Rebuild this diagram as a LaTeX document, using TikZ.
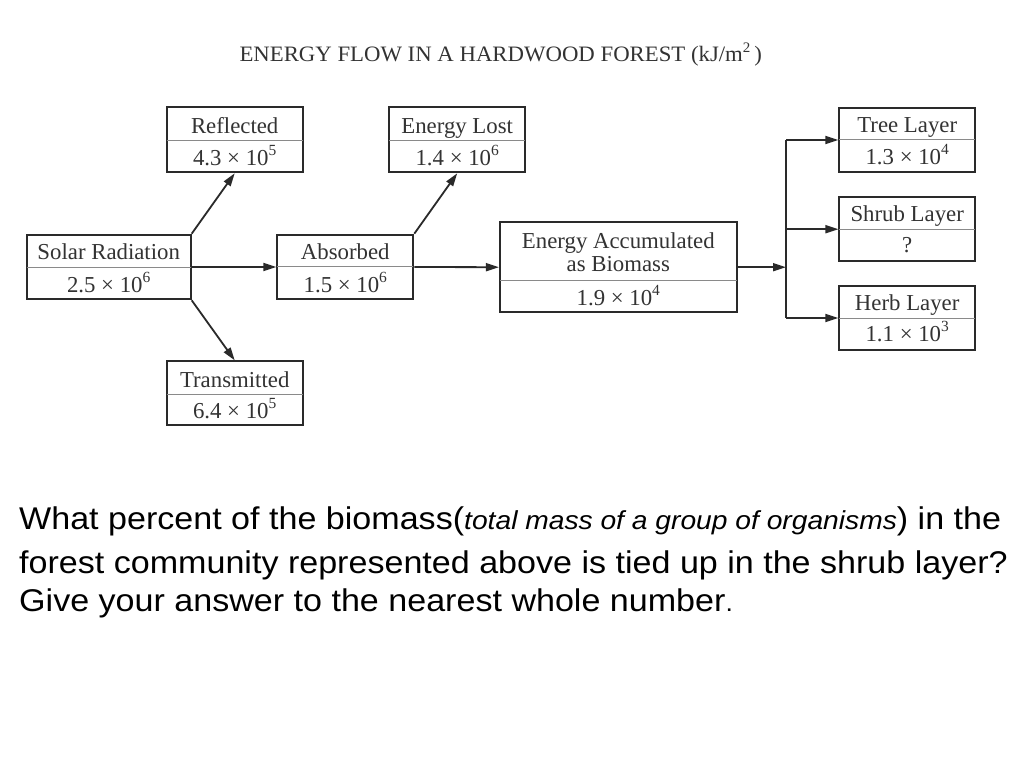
\documentclass[tikz,border=0pt]{standalone}
\usepackage{graphicx}
\usepackage{fontspec}
\setmainfont{Liberation Serif}
\newfontfamily\qfont{Liberation Sans}
\usetikzlibrary{arrows.meta}
\definecolor{ink}{HTML}{2A2A2A}
\definecolor{txt}{HTML}{333333}
\definecolor{rulegray}{HTML}{8A8A8A}
\newcommand{\myexp}[1]{\raisebox{0.42em}{\fontsize{15.5}{15.5}\selectfont #1}}
\newcommand{\tms}{ \texttimes{} }
\begin{document}
\begin{tikzpicture}[x=1pt,y=-1pt,
  box/.style={draw=ink, line width=2pt, inner sep=0pt},
  divider/.style={draw=rulegray, line width=1pt},
  lbl/.style={text=txt, inner sep=0pt, anchor=base, font=\fontsize{22.8}{24}\selectfont},
  arr/.style={draw=ink, line width=1.8pt, -{Triangle[length=13pt,width=8pt]}},
  plain/.style={draw=ink, line width=1.8pt},
  qtext/.style={text=black, inner sep=0pt, anchor=base west, font=\qfont\fontsize{31.4}{41}\selectfont}]
\useasboundingbox (0,0) rectangle (1024,768);
\fill[white] (0,0) rectangle (1024,768);

% title
\node[text=txt, inner sep=0pt, anchor=base west, font=\fontsize{22}{22}\selectfont] (title) at (239.3,61.7)
  {\scalebox{1.035}[1]{ENERGY FLOW IN A HARDWOOD FOREST (kJ/m\myexp{\fontsize{14.5}{14.5}\selectfont 2}\,)}};

% boxes
\node[box, minimum width=136pt, minimum height=65pt] (refl) at (234.7,139.8) {};
\draw[divider] (166.7,140.7) -- (302.7,140.7);
\node[lbl] (reflT) at (234.7,133.2) {Reflected};
\node[lbl] (reflV) at (234.7,165.3) {4.3\tms10\myexp{5}};

\node[box, minimum width=164pt, minimum height=64.6pt] (solar) at (108.7,267) {};
\draw[divider] (26.7,267.3) -- (190.7,267.3);
\node[lbl] (solarT) at (108.7,259.5) {Solar Radiation};
\node[lbl] (solarV) at (108.7,292.5) {2.5\tms10\myexp{6}};

\node[box, minimum width=136pt, minimum height=63.7pt] (trans) at (234.7,393.2) {};
\draw[divider] (166.7,394.3) -- (302.7,394.3);
\node[lbl] (transT) at (234.7,387) {Transmitted};
\node[lbl] (transV) at (234.7,418) {6.4\tms10\myexp{5}};

\node[box, minimum width=136pt, minimum height=64.6pt] (abs) at (345.3,267) {};
\draw[divider] (277.3,266.7) -- (413.3,266.7);
\node[lbl] (absT) at (345.3,259.3) {Absorbed};
\node[lbl] (absV) at (345.3,292.3) {1.5\tms10\myexp{6}};

\node[box, minimum width=135.7pt, minimum height=65pt] (lost) at (457.2,139.8) {};
\draw[divider] (389.3,140.7) -- (525,140.7);
\node[lbl] (lostT) at (457.2,133.2) {Energy Lost};
\node[lbl] (lostV) at (457.2,165.3) {1.4\tms10\myexp{6}};

\node[box, minimum width=236.7pt, minimum height=90.3pt] (accum) at (618.3,267.2) {};
\draw[divider] (500,280.7) -- (736.7,280.7);
\node[lbl] (accumT1) at (618.3,248.3) {Energy Accumulated};
\node[lbl] (accumT2) at (618.3,271.7) {as Biomass};
\node[lbl] (accumV) at (618.3,305.3) {1.9\tms10\myexp{4}};

\node[box, minimum width=135.7pt, minimum height=63.4pt] (tree) at (907.2,140) {};
\draw[divider] (839.3,139.3) -- (975,139.3);
\node[lbl] (treeT) at (907.2,132.2) {Tree Layer};
\node[lbl] (treeV) at (907.2,164.5) {1.3\tms10\myexp{4}};

\node[box, minimum width=135.7pt, minimum height=64.3pt] (shrub) at (907.2,229.2) {};
\draw[divider] (839.3,229) -- (975,229);
\node[lbl] (shrubT) at (907.2,221.7) {Shrub Layer};
\node[lbl] (shrubV) at (907.2,252.5) {?};

\node[box, minimum width=135.7pt, minimum height=64pt] (herb) at (907.2,318) {};
\draw[divider] (839.3,318.3) -- (975,318.3);
\node[lbl] (herbT) at (907.2,310.8) {Herb Layer};
\node[lbl] (herbV) at (907.2,341.5) {1.1\tms10\myexp{3}};

% connectors
\draw[arr] (solar.north east) -- (refl.south);
\draw[arr] (solar.south east) -- (trans.north);
\draw[arr] (solar.east) -- (abs.west);
\draw[arr] (abs.north east) -- (lost.south);
\draw[arr] (abs.east) -- (accum.west);
\coordinate (j) at (786,267.2);
\draw[arr] (accum.east) -- (j);
\draw[plain] (j |- tree.west) -- (j |- herb.west);
\draw[arr] (j |- tree.west) -- (tree.west);
\draw[arr] (j |- shrub.west) -- (shrub.west);
\draw[arr] (j |- herb.west) -- (herb.west);

% question
\node[qtext] (q1) at (19,529.3) {\scalebox{1.085}[1]{What percent of the biomass(\textit{\fontsize{26}{26}\selectfont total mass of a group of organisms}) in the}};
\node[qtext] (q2) at (19,573.3) {\scalebox{1.085}[1]{forest community represented above is tied up in the shrub layer?}};
\node[qtext] (q3) at (19,611.7) {\scalebox{1.085}[1]{Give your answer to the nearest whole number{\fontsize{24.5}{24.5}\selectfont .}}};
\end{tikzpicture}
\end{document}
